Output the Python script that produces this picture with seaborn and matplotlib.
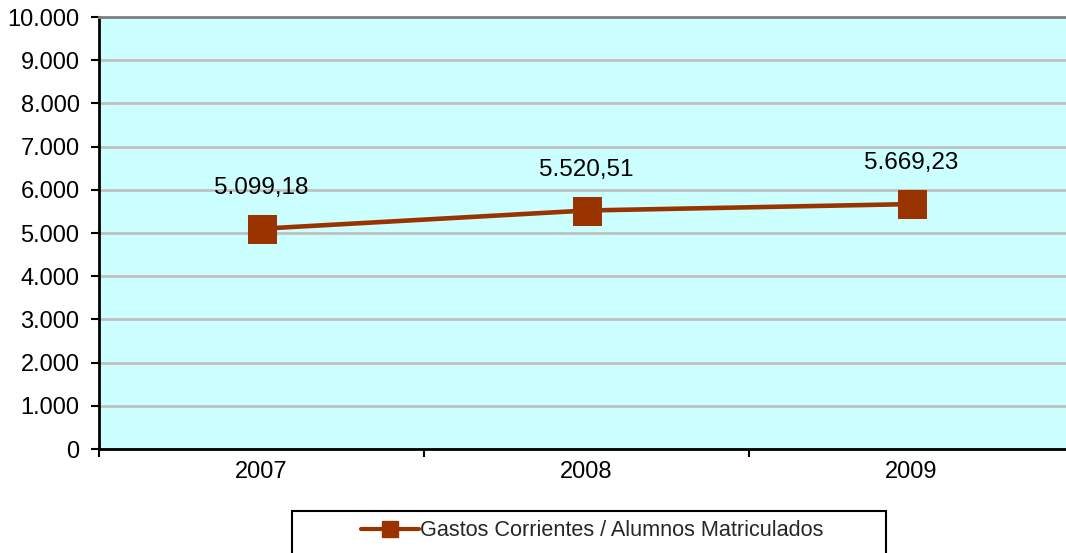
import matplotlib
matplotlib.use("Agg")
import matplotlib.pyplot as plt
import seaborn as sns
import numpy as np
import pandas as pd
from matplotlib.patches import Rectangle
from matplotlib.lines import Line2D
from matplotlib.ticker import FuncFormatter, FixedLocator

years = ["2007", "2008", "2009"]
values = [5099.18, 5520.51, 5669.23]
value_labels = ["5.099,18", "5.520,51", "5.669,23"]
series_name = "Gastos Corrientes / Alumnos Matriculados"
yticks = [0, 1000, 2000, 3000, 4000, 5000, 6000, 7000, 8000, 9000, 10000]

sns.set_theme(style="white")
plt.rcParams['font.family'] = ['Liberation Sans', 'DejaVu Sans']

W, H = 1066, 553
fig = plt.figure(figsize=(W / 100, H / 100), dpi=100)
ax = fig.add_axes([99 / W, (H - 449) / H, 975 / W, 432 / H])
ax.set_facecolor("#CCFFFF")

color = "#993300"
df = pd.DataFrame({"pos": np.arange(len(years)), "val": values})
sns.lineplot(data=df, x="pos", y="val", ax=ax, color=color, linewidth=3.3,
             marker="s", markersize=19.5, markeredgecolor=color, legend=False)

for i, (v, lab) in enumerate(zip(values, value_labels)):
    ax.annotate(lab, (i, v), xytext=(0, 41), textcoords="offset pixels",
                ha="center", va="center", fontsize=17.5, color="black")

ax.set_xlim(-0.5, 2.5)
ax.set_ylim(0, 10000)
ax.set_yticks(yticks)
ax.yaxis.set_major_formatter(FuncFormatter(lambda v, p: f"{int(v):,}".replace(",", ".")))
ax.set_xticks(np.arange(len(years)))
ax.set_xticklabels(years)
ax.xaxis.set_minor_locator(FixedLocator([-0.5, 0.5, 1.5, 2.5]))
ax.tick_params(axis="x", which="major", length=0, pad=9, labelsize=17, colors="black")
ax.tick_params(axis="x", which="minor", length=6, width=1.5, direction="out", color="black", bottom=True)
ax.tick_params(axis="y", which="major", length=6, width=1.5, direction="out", left=True, pad=8,
               labelsize=17, colors="black")
ax.set_xlabel("")
ax.set_ylabel("")

ax.grid(axis="y", color="#C0C0C0", linewidth=2)
ax.grid(axis="x", visible=False)
ax.set_axisbelow(True)

for s in ["left", "bottom"]:
    ax.spines[s].set_color("black")
    ax.spines[s].set_linewidth(2)
ax.spines["top"].set_color("#808080")
ax.spines["top"].set_linewidth(2)
ax.spines["right"].set_visible(False)

# legend
fig.patches.append(Rectangle((292 / W, (H - 560) / H), 594 / W, 49 / H, transform=fig.transFigure,
                             fill=False, edgecolor="black", linewidth=1.5))
h = Line2D([], [], color=color, linewidth=3, marker="s", markersize=11, markeredgecolor=color)
fig.legend([h], [series_name], loc="center", bbox_to_anchor=(592 / W, (H - 531) / H),
           frameon=False, fontsize=15.6, handlelength=2.7, handletextpad=0.05)

fig.savefig("out.png", dpi=100)
